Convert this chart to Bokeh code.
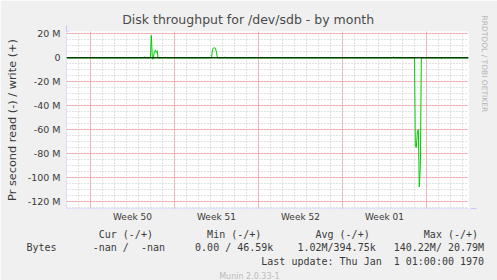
import math
from bokeh.plotting import figure
from bokeh.models import (FixedTicker, Span, Arrow, NormalHead, Range1d, Title,
                          Legend, LegendItem)
from bokeh.embed import file_html
from bokeh.resources import INLINE

# ---- data (time in days from left edge, values in M bytes/s) ----
t = [0, 6.40, 6.48, 6.56, 6.99, 7.07, 7.15, 7.20, 7.25, 7.32, 7.40, 7.48, 7.56, 7.62,
     8.15, 8.23, 8.31, 12.08, 12.17, 12.25, 12.33, 12.42, 12.50, 12.58,
     13.12, 13.20, 13.28, 27.15, 27.23, 27.31,
     29.00, 29.07, 29.15, 29.24, 29.32, 29.40, 29.49, 29.57,
     31.15, 31.23, 31.31, 33.5]
write = [0, 0, 0.8, 0, 0, 18.8, 0, 0, 0, 5.5, 6.3, 4.5, 6.0, 0,
         0, 0.5, 0, 0, 7.0, 8.3, 8.3, 8.0, 4.0, 0,
         0, 0.8, 0, 0, 0.8, 0,
         0, 0, 0, 0, 0, 0, 0, 0,
         0, 0, 0, 0]
read = [0, 0, 0, 0, 0, 0, 0, -1.2, 0, 0, 0, 0, 0, 0,
        0, 0, 0, 0, 0, 0, 0, 0, 0, 0,
        0, 0, 0, 0, 0, 0,
        0, -74, -75, -62, -60, -108, -90, 0,
        0, -0.8, 0, 0]

week_bounds = [2, 9, 16, 23, 30]
days = list(range(0, 34))
week_label_pos = [5.5, 12.5, 19.5, 26.5]
week_labels = ["Week 50", "Week 51", "Week 52", "Week 01"]
y_major = [-120, -100, -80, -60, -40, -20, 0, 20]
y_labels = ["-120 M", "-100 M", "-80 M", "-60 M", "-40 M", "-20 M", "0", "20 M"]
y_minor = list(range(-125, 25, 5))

title_text = "Disk throughput for /dev/sdb - by month"
ylabel_text = "Pr second read (-) / write (+)"
legend_header = ["Cur (-/+)", "Min (-/+)", "Avg (-/+)", "Max (-/+)"]
legend_values = ["-nan /  -nan", "0.00 / 46.59k", "1.02M/394.75k", "140.22M/ 20.79M"]
series_name = "Bytes"
last_update = "Last update: Thu Jan  1 01:00:00 1970"
footer = "Munin 2.0.33-1"
side_text = "RRDTOOL / TOBI OETIKER"

GREEN = "#00CC00"
TXT = "#3a3a3a"
AXIS = "#C4C8FF"
NB = "\u00a0"

FL, FT, FR, FB = 66, 31, 468, 208
p = figure(width=497, height=280, output_backend="svg", toolbar_location=None,
           x_range=Range1d(0, 33.5), y_range=Range1d(-126, 22),
           min_border_left=FL, min_border_right=497 - FR, min_border_top=FT,
           min_border_bottom=280 - FB)
p.background_fill_color = "#FFFFFF"
p.border_fill_color = "#F0F0F0"
p.outline_line_color = None

# grids
p.xgrid.ticker = FixedTicker(ticks=week_bounds, minor_ticks=days)
p.ygrid.ticker = FixedTicker(ticks=y_major, minor_ticks=y_minor)
for g in (p.xgrid, p.ygrid):
    g.grid_line_color = "#F08080"
    g.grid_line_dash = "1 1"
    g.grid_line_width = 1
    g.minor_grid_line_color = "#C4C4C4"
    g.minor_grid_line_dash = "1 2"
    g.minor_grid_line_width = 1

# axes
p.xaxis.ticker = FixedTicker(ticks=week_label_pos)
p.xaxis.major_label_overrides = {k: v for k, v in zip(week_label_pos, week_labels)}
p.yaxis.ticker = FixedTicker(ticks=y_major)
p.yaxis.major_label_overrides = {k: v for k, v in zip(y_major, y_labels)}
for ax in (p.xaxis, p.yaxis):
    ax.axis_line_color = None
    ax.major_tick_line_color = None
    ax.minor_tick_line_color = None
    ax.major_tick_out = 0
    ax.major_tick_in = 0
    ax.minor_tick_out = 0
    ax.minor_tick_in = 0
    ax.major_label_text_color = TXT
    ax.major_label_text_font = "DejaVu Sans"
p.xaxis.major_label_text_font_size = "9px"
p.xaxis.major_label_standoff = 3
p.yaxis.major_label_text_font_size = "9.5px"
p.yaxis.major_label_standoff = 6
p.yaxis.axis_label = ylabel_text
p.yaxis.axis_label_text_font = "DejaVu Sans"
p.yaxis.axis_label_text_font_size = "11.3px"
p.yaxis.axis_label_text_font_style = "normal"
p.yaxis.axis_label_text_color = TXT
p.yaxis.axis_label_standoff = 6

# data lines, then the black zero rule on top
r_write = p.line(t, write, line_color=GREEN, line_width=1)
r_read = p.line(t, read, line_color=GREEN, line_width=1)
p.add_layout(Span(location=0, dimension="width", line_color="black", line_width=1))

# colour swatch proxy for the legend (no visible mark in the plot)
nan = float("nan")
r_swatch = p.quad(left=[nan], right=[nan], top=[nan], bottom=[nan],
                  fill_color=GREEN, line_color=GREEN, line_width=1)

# axis arrows (screen units, frame relative)
fw, fh = FR - FL, FB - FT
p.add_layout(Arrow(x_start=0, y_start=-4, x_end=0, y_end=fh + 6,
                   start_units="screen", end_units="screen",
                   line_color=AXIS, line_width=1,
                   end=NormalHead(size=6, fill_color=AXIS, line_color=AXIS)))
p.add_layout(Arrow(x_start=-4, y_start=0, x_end=fw + 8, y_end=0,
                   start_units="screen", end_units="screen",
                   line_color=AXIS, line_width=1,
                   end=NormalHead(size=6, fill_color=AXIS, line_color=AXIS)))

# main title
p.title.text = title_text
p.title.align = "left"
p.title.offset = 55.7
p.title.text_font = "DejaVu Sans"
p.title.text_font_size = "12.5px"
p.title.text_font_style = "normal"
p.title.text_color = "#4a4a4a"
p.title.standoff = 10

# side credit
p.add_layout(Title(text=side_text, align="left", offset=-16, standoff=18,
                   vertical_align="top",
                   text_font="DejaVu Sans", text_font_size="7.5px",
                   text_font_style="normal", text_color="#B4B4B4"), "right")

# swatch legend, placed (frame-relative) down at the Bytes row
leg = Legend(items=[LegendItem(label=NB, renderers=[r_swatch])],
             location=(14 - FL, -(244.7 - FB) - 2.5 - 5 + 2.5),
             orientation="vertical",
             glyph_width=5, glyph_height=5, label_height=5,
             label_standoff=0, label_text_font_size="1px",
             padding=0, margin=0, spacing=0,
             border_line_color=None, background_fill_color=None,
             background_fill_alpha=0)
p.add_layout(leg)

# legend block (monospace columns)
def pad(parts):
    s = ""
    for col, txt in parts:
        s += NB * (col - len(s)) + txt.replace(" ", NB)
    return s

row1 = pad([(12, legend_header[0]), (30, legend_header[1]),
            (48, legend_header[2]), (66, legend_header[3])])
row2 = pad([(0, series_name), (11, legend_values[0]), (28, legend_values[1]),
            (45, legend_values[2]), (61, legend_values[3])])
row3 = pad([(39, last_update)])
block = "\n".join([row1, row2, row3])

p.add_layout(Title(text=block, align="left", offset=26 - FL, standoff=5,
                   text_font="DejaVu Sans Mono", text_font_size="10px",
                   text_font_style="normal", text_color=TXT,
                   text_line_height=1.24), "below")
p.add_layout(Title(text=footer, align="left", offset=218.7 - FL, standoff=0,
                   text_font="DejaVu Sans", text_font_size="8px",
                   text_font_style="normal", text_color="#BBBBBB"), "below")

open("out.html", "w").write(file_html(p, INLINE))
